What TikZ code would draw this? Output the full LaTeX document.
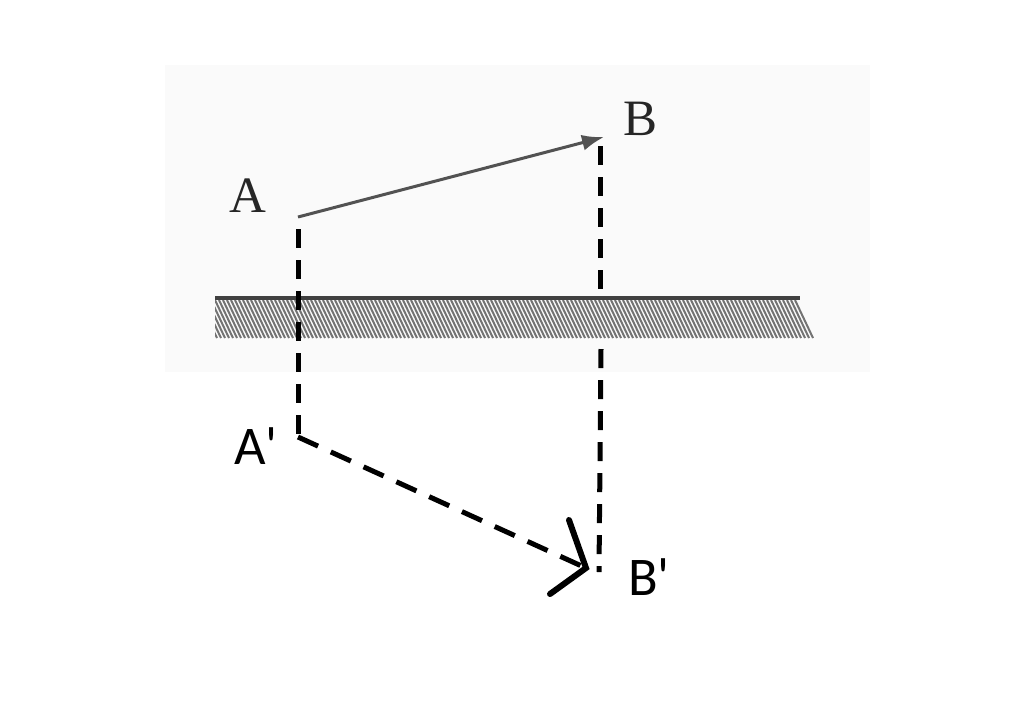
\documentclass[tikz,border=0pt]{standalone}
\usepackage{fontspec}
\setmainfont{Liberation Serif}
\newfontfamily\primefont{Carlito}
\usetikzlibrary{arrows.meta}

\begin{document}
\begin{tikzpicture}[x=0.01cm, y=-0.01cm,
		proj/.style={line width=0.5mm, color=black, dash pattern=on 0.19cm off 0.12cm},
		serifname/.style={font=\fontsize{14.5}{16}\selectfont, color=black!85},
		primename/.style={font=\primefont\fontsize{15.5}{17}\selectfont}]
	%%%%% START %%%%%
	
	\useasboundingbox (0, 0) rectangle (1024, 705);
	\fill[color=black!2] (165, 65) rectangle (870, 372);
	
	% ground
	\begin{scope}
		\clip (215, 300) rectangle (830, 338);
		\foreach \x in {195, 199, ..., 796}
			\draw[line width=0.2mm, color=black!55] (\x, 300) -- (\x+18, 338);
	\end{scope}
	\draw[line width=0.4mm, color=black!75] (215, 298) -- (800, 298);
	
	% points
	\coordinate (A) at (298, 217);
	\coordinate (B) at (604, 137);
	\coordinate (Afoot) at (298, 229);
	\coordinate (Ap) at (298, 437);
	\coordinate (Btop) at (600, 146);
	\coordinate (Bcut) at (600, 290);
	\coordinate (Bresume) at (601, 349);
	\coordinate (Bp) at (599, 572);
	\coordinate (Bptip) at (586, 568);
	\coordinate (headL) at (569, 520);
	\coordinate (headR) at (550, 594);
	
	\node[serifname] (labelA) at (248, 196) {A};
	\node[serifname] (labelB) at (640, 119) {B};
	\node[primename] (labelAp) at (256, 446) {A'};
	\node[primename] (labelBp) at (649, 577) {B'};
	
	\draw[line width=0.3mm, color=black!68, -{Latex[length=2.2mm, width=1.6mm]}] (A) -- (B);
	
	\draw[proj] (Afoot) -- (Ap);
	\draw[proj] (Btop) -- (Bcut);
	\draw[proj] (Bresume) -- (Bp);
	
	\draw[line width=0.5mm, dash pattern=on 0.22cm off 0.14cm] (Ap) -- (Bptip);
	\draw[line width=0.6mm, line cap=round] (headL) -- (Bptip) -- (headR);
	
	%%%%% END %%%%%
\end{tikzpicture}
\end{document}
